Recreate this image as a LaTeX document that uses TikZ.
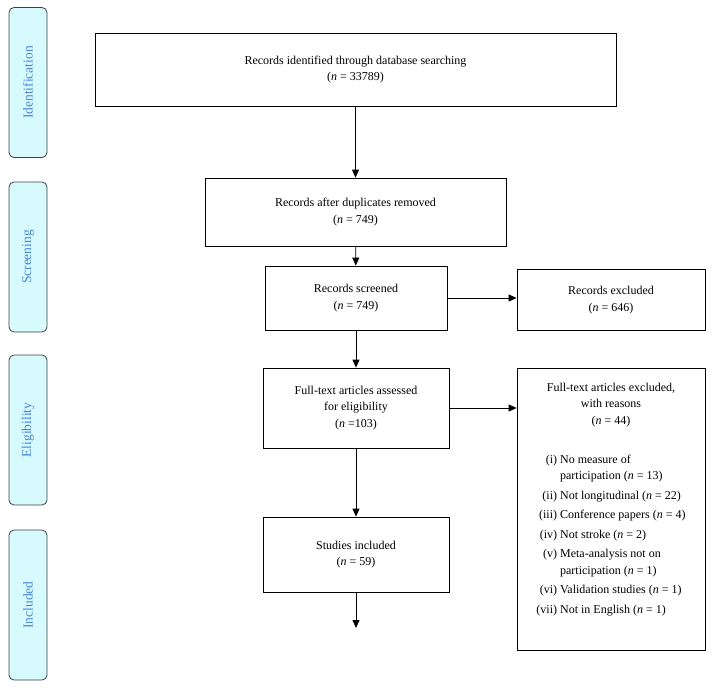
\documentclass[tikz,border=0pt]{standalone}
\usepackage{fontspec}
\setmainfont{Liberation Serif}
\usepackage{tikz}
\usetikzlibrary{arrows.meta,positioning}
\definecolor{phasefill}{RGB}{214,250,253}
\definecolor{phasetext}{RGB}{74,134,214}
\newcommand{\nn}[1]{(\textit{n} = #1)}
\tikzset{
  box/.style   = {draw, line width=0.8pt, align=center, inner sep=2pt,
                  font=\fontsize{12}{16.5}\selectfont},
  phase/.style = {draw=black!75, line width=0.8pt, fill=phasefill, rounded corners=5pt, rotate=90,
                  minimum width=150pt, minimum height=38pt, text=phasetext,
                  font=\fontsize{13.5}{15}\selectfont},
  line/.style  = {-{Triangle[length=8pt,width=7pt]}, line width=0.8pt},
}

\begin{document}
\begin{tikzpicture}[x=1pt,y=-1pt]
    \useasboundingbox (0,0) rectangle (713,688);
    % phases
    \node[phase] (pId)  at (28,82.5) {Identification};
    \node[phase] (pScr) at (28,257)  {Screening};
    \node[phase] (pEl)  at (28,430)  {Eligibility};
    \node[phase] (pInc) at (28,605)  {Included};
    % main column
    \node[box,minimum width=521pt,minimum height=73pt] (id)  at (355.5,69.5) {Records identified through database searching\\\nn{33789}};
    \node[box,minimum width=301pt,minimum height=68pt] (dup) at (355.5,212) {Records after duplicates removed\\\nn{749}};
    \node[box,minimum width=182pt,minimum height=64pt] (scr) at (356,298) {Records screened\\\nn{749}};
    \node[box,minimum width=186pt,minimum height=80pt] (full) at (356,408) {Full-text articles assessed\\for eligibility\\(\textit{n} =103)};
    \node[box,minimum width=186pt,minimum height=75pt] (inc) at (356,554.5) {Studies included\\\nn{59}};
    \coordinate (end) at (356,628);
    % exclusions
    \node[box,minimum width=188pt,minimum height=61pt] (excl) at (611,300) {Records excluded\\\nn{646}};
    \node[box,minimum width=188pt,minimum height=282pt] (exclfull) at (611,509) {%
      Full-text articles excluded,\\with reasons\\\nn{44}\\[24pt]
      \begin{tabular}{@{}r@{\ }l@{}}
        (i)   & No measure of\\
              & participation \nn{13}\\[3pt]
        (ii)  & Not longitudinal \nn{22}\\[3pt]
        (iii) & Conference papers \nn{4}\\[3pt]
        (iv)  & Not stroke \nn{2}\\[3pt]
        (v)   & Meta-analysis not on\\
              & participation \nn{1}\\[3pt]
        (vi)  & Validation studies \nn{1}\\[3pt]
        (vii) & Not in English \nn{1}
      \end{tabular}\\[16pt]};
    % connectors
    \draw[line] (id) -- (dup);
    \draw[line] (dup) -- (scr);
    \draw[line] (scr) -- (full);
    \draw[line] (full) -- (inc);
    \draw[line] (inc) -- (end);
    \draw[line] (scr.east) -- (scr.east -| excl.west);
    \draw[line] (full.east) -- (full.east -| exclfull.west);
\end{tikzpicture}
\end{document}
